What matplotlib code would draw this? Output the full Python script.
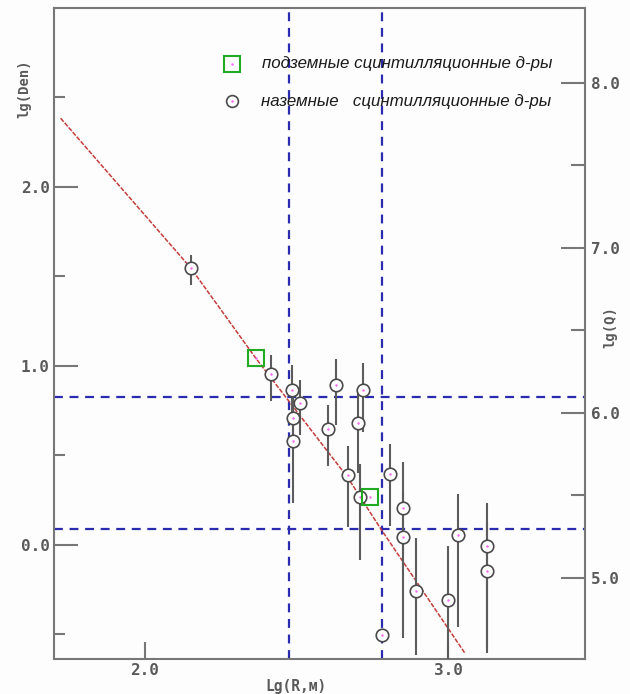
import matplotlib
matplotlib.use("Agg")
import matplotlib.pyplot as plt

# Ground-array scintillation detectors: lg(R), lg(Den), asymmetric errors
ground_x = [2.152, 2.416, 2.484, 2.512, 2.487, 2.490, 2.630, 2.605, 2.721, 2.702,
            2.669, 2.711, 2.807, 2.850, 2.850, 2.781, 2.893, 3.001, 3.032, 3.128, 3.128]
ground_y = [1.544, 0.952, 0.864, 0.790, 0.706, 0.580, 0.892, 0.645, 0.864, 0.682,
            0.389, 0.265, 0.393, 0.207, 0.045, -0.505, -0.257, -0.309, 0.054, -0.007, -0.147]
ground_err_up = [0.075, 0.11, 0.14, 0.13, 0.12, 0.30, 0.144, 0.135, 0.15, 0.18,
                 0.162, 0.185, 0.17, 0.257, 0.25, 0.0, 0.296, 0.302, 0.229, 0.238, 0.275]
ground_err_dn = [0.094, 0.15, 0.14, 0.18, 0.12, 0.35, 0.223, 0.205, 0.233, 0.28,
                 0.292, 0.35, 0.29, 0.26, 0.565, 0.0, 0.36, 0.36, 0.512, 0.60, 0.43]

# Underground scintillation detectors
under_x = [2.366, 2.743]
under_y = [1.041, 0.268]

# Fitted lateral distribution function
fit_x = [1.722, 2.152, 2.366, 2.669, 2.779, 3.056]
fit_y = [2.382, 1.544, 1.041, 0.375, 0.086, -0.607]

# Reference levels
ref_x = [2.476, 2.781]
ref_y = [0.823, 0.086]

x_ticks = [2.0, 3.0]
y_ticks = [0.0, 1.0, 2.0]
q_ticks = [5.0, 6.0, 7.0, 8.0]

label_ground = "наземные   сцинтилляционные д-ры"
label_under = "подземные сцинтилляционные д-ры"

grey = "#5a5a5a"
spine_grey = "#777777"
mono = dict(family="DejaVu Sans Mono", weight="bold", color=grey)

fig = plt.figure(figsize=(6.3, 6.94), dpi=100)
fig.patch.set_facecolor("#fdfdfd")
ax = fig.add_axes([54 / 630, 1 - 659 / 694, 531 / 630, 651 / 694])
ax.set_facecolor("#fdfdfd")

ax.set_xlim(1.700, 3.452)
ax.set_ylim(-0.639, 2.998)

# Reference dashed lines
for xv in ref_x:
    ax.axvline(xv, color="#2b2bb0", lw=1.6, ls=(0, (4, 3)), zorder=2)
for yv in ref_y:
    ax.axhline(yv, color="#2b2bb0", lw=1.6, ls=(0, (4, 3)), zorder=2)

# Fit curve
ax.plot(fit_x, fit_y, color="#c43c3c", lw=1.1, ls=(0, (3, 1)), zorder=3)

# Ground detectors with error bars
ax.errorbar(ground_x, ground_y, yerr=[ground_err_dn, ground_err_up], fmt="none",
            ecolor="#5c5c5c", elinewidth=1.5, capsize=0, zorder=4)
ax.plot(ground_x, ground_y, ls="none", marker="o", ms=9, mfc="white",
        mec="#4a4a4a", mew=1.2, zorder=5)
ax.plot(ground_x, ground_y, ls="none", marker=".", ms=1.5, color="#ff66ff", zorder=6)

# Underground detectors
ax.plot(under_x, under_y, ls="none", marker="s", ms=11, mfc="none",
        mec="#22aa22", mew=1.5, zorder=6)
ax.plot(under_x, under_y, ls="none", marker=".", ms=1.5, color="#ff66ff", zorder=6)

# Legend drawn by hand
ax.plot([0.335], [0.914], transform=ax.transAxes, marker="s", ms=11, mfc="none",
        mec="#22aa22", mew=1.5, ls="none", clip_on=False)
ax.plot([0.335], [0.914], transform=ax.transAxes, marker=".", ms=1.5,
        color="#ff66ff", ls="none")
ax.plot([0.335], [0.857], transform=ax.transAxes, marker="o", ms=8.5, mfc="white",
        mec="#4a4a4a", mew=1.2, ls="none")
ax.plot([0.335], [0.857], transform=ax.transAxes, marker=".", ms=1.5,
        color="#ff66ff", ls="none")
ax.text(0.392, 0.914, label_under, transform=ax.transAxes, fontsize=12.2,
        family="Liberation Sans", style="italic", color="#1a1a1a", va="center")
ax.text(0.389, 0.857, label_ground, transform=ax.transAxes, fontsize=12.2,
        family="Liberation Sans", style="italic", color="#1a1a1a", va="center")

# Axes styling
for sp in ax.spines.values():
    sp.set_color(spine_grey)
    sp.set_linewidth(1.5)

ax.set_xticks(x_ticks)
ax.set_xticklabels([f"{v:.1f}" for v in x_ticks], **mono, fontsize=11.5)
ax.set_yticks(y_ticks)
ax.set_yticklabels([f"{v:.1f}" for v in y_ticks], **mono, fontsize=11.5)
ax.set_yticks([-0.5, 0.5, 1.5, 2.5], minor=True)
ax.tick_params(axis="x", which="major", direction="in", length=12, width=1.5,
               color=spine_grey, pad=3)
ax.tick_params(axis="y", which="major", direction="in", length=17, width=1.5,
               color=spine_grey, pad=3)
ax.tick_params(axis="y", which="minor", direction="in", length=8, width=1.5,
               color=spine_grey)

ax.text(0.456, -0.043, "Lg(R,м)", transform=ax.transAxes, ha="center", va="center",
        fontsize=10.5, **mono)
ax.text(-0.055, 0.876, "lg(Den)", transform=ax.transAxes, ha="center", va="center",
        rotation=90, fontsize=10, **mono)

# Right axis: lg(Q)
ax2 = ax.twinx()
ax2.set_ylim(4.509, 8.4545)
ax2.set_yticks(q_ticks)
ax2.set_yticklabels([f"{v:.1f}" for v in q_ticks], **mono, fontsize=11.5)
ax2.set_yticks([5.5, 6.5, 7.5], minor=True)
ax2.tick_params(axis="y", which="major", direction="in", length=17, width=1.5,
                color=spine_grey, pad=4)
ax2.tick_params(axis="y", which="minor", direction="in", length=10, width=1.5,
                color=spine_grey)
for sp in ax2.spines.values():
    sp.set_visible(False)
ax2.text(1.047, 0.51, "lg(Q)", transform=ax.transAxes, ha="center", va="center",
         rotation=90, fontsize=10, **mono)

fig.savefig("out.png", dpi=100, facecolor=fig.get_facecolor())
